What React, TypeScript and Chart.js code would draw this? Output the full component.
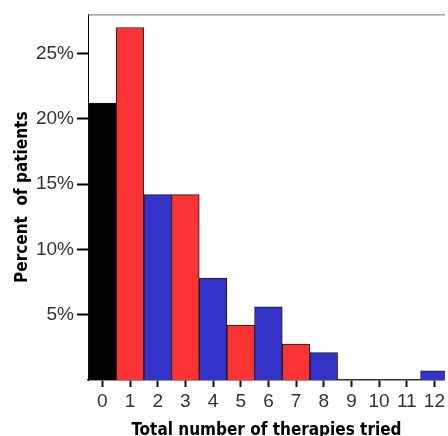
import React, { useEffect, useRef } from 'react';
import { Chart, registerables } from 'chart.js';

Chart.register(...registerables);

const therapyCounts = [0, 1, 2, 3, 4, 5, 6, 7, 8, 9, 10, 11, 12];
const percentPatients = [21.2, 27.0, 14.2, 14.2, 7.8, 4.2, 5.6, 2.75, 2.1, 0, 0, 0, 0.7];
const yTickValues = [5, 10, 15, 20, 25];
const xTitle = 'Total number of therapies tried';
const yTitle = 'Percent  of patients';

const frameTop = {
  id: 'frameTop',
  afterDraw(chart: any) {
    const { ctx, chartArea } = chart;
    ctx.save();
    ctx.strokeStyle = '#6f6f5f';
    ctx.lineWidth = 1;
    ctx.beginPath();
    ctx.moveTo(chartArea.left, chartArea.top + 0.5);
    ctx.lineTo(chartArea.right, chartArea.top + 0.5);
    ctx.stroke();
    ctx.restore();
  },
};

const titleFamily = '"DejaVu Sans Condensed", "DejaVu Sans", Verdana, sans-serif';

export default function App() {
  const ref = useRef<HTMLCanvasElement | null>(null);
  useEffect(() => {
    if (!ref.current) return;
    const chart = new Chart(ref.current, {
      type: 'bar',
      data: {
        datasets: [
          {
            data: therapyCounts.map((x, i) => ({ x, y: percentPatients[i] })),
            backgroundColor: (c: any) =>
              c.dataIndex === 0 ? '#000000' : c.dataIndex % 2 === 1 ? '#fa3434' : '#3333c9',
            borderColor: '#1a1a1a',
            borderWidth: 1,
            categoryPercentage: 1,
            barPercentage: 1,
          },
        ],
      },
      plugins: [frameTop],
      options: {
        responsive: false,
        animation: false,
        layout: { padding: { top: 13, left: 0, right: 0, bottom: 0 } },
        plugins: { legend: { display: false }, tooltip: { enabled: false } },
        scales: {
          x: {
            type: 'linear',
            offset: false,
            min: -0.52,
            max: 12.38,
            afterBuildTicks: (s: any) => {
              s.ticks = therapyCounts.map((v) => ({ value: v }));
            },
            afterFit: (s: any) => {
              s.height = 56;
            },
            ticks: {
              autoSkip: false,
              maxRotation: 0,
              padding: 3,
              color: '#333',
              font: { family: 'Liberation Sans, Arial, sans-serif', size: 19 },
              callback: (v: any) => String(v),
            },
            grid: {
              offset: false,
              drawOnChartArea: false,
              drawTicks: true,
              tickLength: 7,
              tickWidth: 2,
              tickColor: '#111',
            },
            border: { display: true, color: '#333', width: 1.5 },
            title: {
              display: true,
              text: xTitle,
              color: '#000',
              padding: { top: 0, bottom: 0 },
              font: { family: titleFamily, size: 17, weight: 'bold', lineHeight: 0.6 },
            },
          },
          y: {
            min: 0,
            max: 28,
            afterBuildTicks: (s: any) => {
              s.ticks = yTickValues.map((v) => ({ value: v }));
            },
            afterFit: (s: any) => {
              s.width = 88;
            },
            ticks: {
              padding: 3,
              color: '#333',
              font: { family: 'Liberation Sans, Arial, sans-serif', size: 19 },
              callback: (v: any) => v + '%',
            },
            grid: {
              drawOnChartArea: false,
              drawTicks: true,
              tickLength: 11,
              tickWidth: 2,
              tickColor: '#000',
            },
            border: { display: true, color: '#000', width: 1 },
            title: {
              display: true,
              text: yTitle,
              color: '#000',
              padding: { top: 12, bottom: 0 },
              font: { family: titleFamily, size: 17, weight: 'bold', lineHeight: 1.2 },
            },
          },
        },
      } as any,
    });
    return () => chart.destroy();
  }, []);
  return (
    <div style={{ position: 'absolute', left: 0, top: 0, width: 448, height: 436, overflow: 'hidden', background: '#fff' }}>
      <canvas ref={ref} width={448} height={436} style={{ width: 448, height: 436, display: 'block' }} />
    </div>
  );
}
